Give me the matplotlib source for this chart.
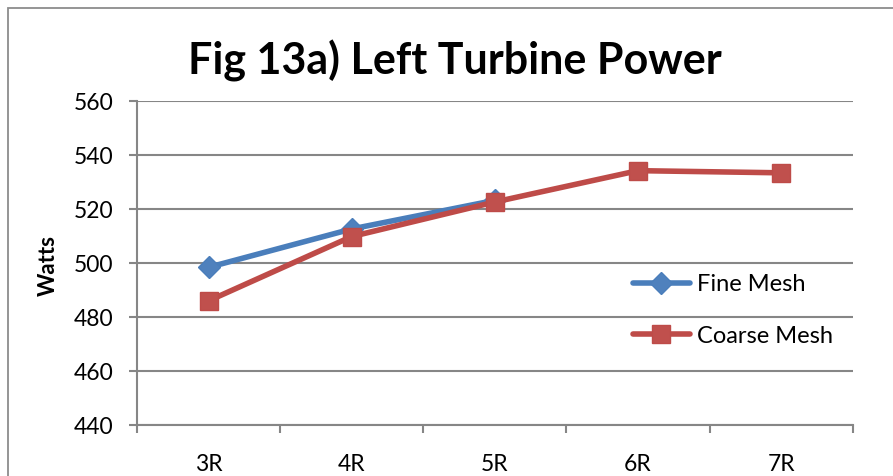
import matplotlib
matplotlib.use("Agg")
import matplotlib.pyplot as plt
from matplotlib.patches import Rectangle

categories = ["3R", "4R", "5R", "6R", "7R"]
fine_mesh = [498.4, 512.6, 523.2]
coarse_mesh = [486.0, 509.8, 522.6, 534.2, 533.4]
y_ticks = [440, 460, 480, 500, 520, 540, 560]

plt.rcParams["font.family"] = ["Lato", "DejaVu Sans"]

W, H = 893, 476
fig = plt.figure(figsize=(W / 100, H / 100), dpi=100)
fig.patch.set_facecolor("white")

# chart-area border (runs off the right and bottom edges)
fig.patches.append(Rectangle((8 / W, -0.2), 1.2, 1.2 - 8 / H,
                             transform=fig.transFigure, fill=False,
                             edgecolor="#8c8c8c", linewidth=1.3))

ax = fig.add_axes([137 / W, (H - 425) / H, (852.7 - 137) / W, 324 / H])
grid_c = "#868686"

x = list(range(len(categories)))
ax.plot(x[:len(fine_mesh)], fine_mesh, color="#4A7EBB", linewidth=4.0,
        marker="D", markersize=11, markerfacecolor="#4F81BD",
        markeredgecolor="#4A7EBB", markeredgewidth=1, label="Fine Mesh",
        solid_capstyle="round", zorder=3)
ax.plot(x, coarse_mesh, color="#BE4B48", linewidth=4.0,
        marker="s", markersize=13, markerfacecolor="#C0504D",
        markeredgecolor="#BE4B48", markeredgewidth=1, label="Coarse Mesh",
        solid_capstyle="round", zorder=4)

ax.set_xlim(-0.5, len(categories) - 0.5)
ax.set_ylim(y_ticks[0], y_ticks[-1])
ax.set_yticks(y_ticks)
ax.set_yticklabels([str(v) for v in y_ticks], fontsize=16.5)
ax.yaxis.grid(True, color=grid_c, linewidth=1.5)
ax.set_axisbelow(True)

# category boundaries as major ticks, labels on minor ticks at centres
ax.set_xticks([i - 0.5 for i in range(len(categories) + 1)])
ax.set_xticklabels([])
ax.set_xticks(x, minor=True)
ax.set_xticklabels(categories, minor=True, fontsize=16.5)
ax.tick_params(axis="x", which="major", direction="out", length=6,
               width=1.5, color=grid_c)
ax.tick_params(axis="x", which="minor", length=0, pad=21)
ax.tick_params(axis="y", direction="out", length=6, width=1.5,
               color=grid_c, pad=11)

for s in ("top", "right"):
    ax.spines[s].set_visible(False)
for s in ("left", "bottom"):
    ax.spines[s].set_color(grid_c)
    ax.spines[s].set_linewidth(1.5)

fig.text(455 / W, 1 - 61 / H, "Fig 13a) Left Turbine Power",
         fontsize=31, fontweight="bold", ha="center", va="center")
fig.text(48 / W, 1 - 265 / H, "Watts", fontsize=16, fontweight="bold",
         rotation=90, ha="center", va="center")

ax.legend(loc="upper left", bbox_to_anchor=(633 / W, 1 - 274 / H),
          bbox_transform=fig.transFigure, frameon=False, fontsize=17,
          handlelength=2.4, handletextpad=0.3, labelspacing=1.3,
          borderpad=0, borderaxespad=0)

fig.savefig("out.png", dpi=100, facecolor="white")
